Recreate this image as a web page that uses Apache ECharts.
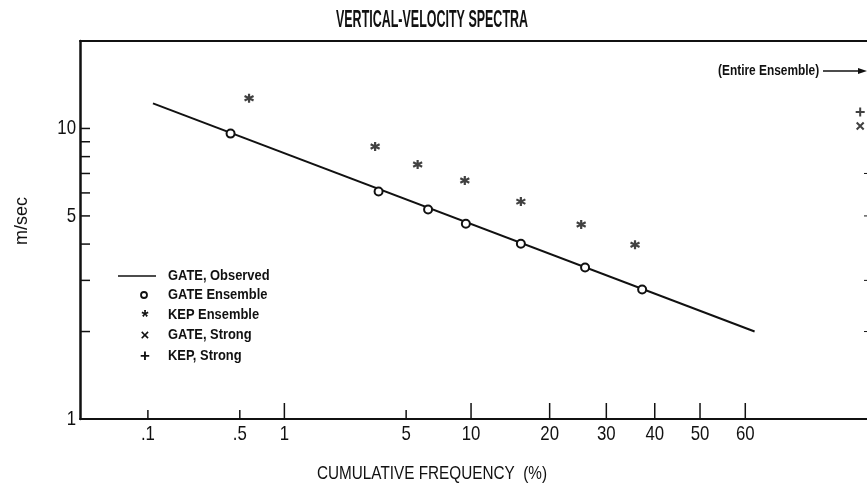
<!DOCTYPE html>
<html><head><meta charset="utf-8">
<script src="https://cdn.jsdelivr.net/npm/echarts@6/dist/echarts.min.js"></script>
<style>html,body{margin:0;padding:0;background:#fff}#c{width:867px;height:493px}</style>
</head><body><div id="c"></div>
<script>
// ---- data ----
const xTickValues = [0.1, 0.5, 1, 5, 10, 20, 30, 40, 50, 60];
const xTickLabels = ['.1', '.5', '1', '5', '10', '20', '30', '40', '50', '60'];
const xShortTicks = [0.1, 0.5, 5];
const yTickValues = [2, 3, 4, 5, 6, 7, 8, 9, 10];
const yLabelValues = [1, 5, 10];
const yLabelTexts = ['1', '5', '10'];
const yRightTicks = [2, 3, 5, 7];
const xRangePct = [0.026, 82.5];
const yRange = [1, 20];

const gateObservedFreq = [0.11, 62];
const gateObservedVel = [12.2, 2.0];
const gateEnsembleFreq = [0.43, 3.6, 6.4, 9.5, 15.8, 26, 37.3];
const gateEnsembleVel = [9.6, 6.07, 5.26, 4.7, 4.01, 3.32, 2.79];
const kepEnsembleFreq = [0.58, 3.45, 5.7, 9.4, 15.8, 25.3, 35.8];
const kepEnsembleVel = [12.7, 8.67, 7.51, 6.62, 5.6, 4.67, 3.98];
const gateStrongFreq = [81.5];
const gateStrongVel = [10.2];
const kepStrongFreq = [81.5];
const kepStrongVel = [11.4];

// inverse normal CDF (Acklam) -> probability-paper scale
function probit(pct) {
  const p = pct / 100;
  const a = [-3.969683028665376e+01, 2.209460984245205e+02, -2.759285104469687e+02, 1.383577518672690e+02, -3.066479806614716e+01, 2.506628277459239e+00];
  const b = [-5.447609879822406e+01, 1.615858368580409e+02, -1.556989798598866e+02, 6.680131188771972e+01, -1.328068155288572e+01];
  const c = [-7.784894002430293e-03, -3.223964580411365e-01, -2.400758277161838e+00, -2.549732539343734e+00, 4.374664141464968e+00, 2.938163982698783e+00];
  const d = [7.784695709041462e-03, 3.224671290700398e-01, 2.445134137142996e+00, 3.754408661907416e+00];
  const pl = 0.02425, ph = 1 - pl;
  let q, r;
  if (p < pl) {
    q = Math.sqrt(-2 * Math.log(p));
    return (((((c[0]*q+c[1])*q+c[2])*q+c[3])*q+c[4])*q+c[5]) / ((((d[0]*q+d[1])*q+d[2])*q+d[3])*q+1);
  } else if (p <= ph) {
    q = p - 0.5; r = q * q;
    return (((((a[0]*r+a[1])*r+a[2])*r+a[3])*r+a[4])*r+a[5])*q / (((((b[0]*r+b[1])*r+b[2])*r+b[3])*r+b[4])*r+1);
  } else {
    q = Math.sqrt(-2 * Math.log(1 - p));
    return -(((((c[0]*q+c[1])*q+c[2])*q+c[3])*q+c[4])*q+c[5]) / ((((d[0]*q+d[1])*q+d[2])*q+d[3])*q+1);
  }
}
const pairs = (fs, vs) => fs.map((f, i) => [probit(f), vs[i]]);

const FONT = "'Liberation Sans',Arial,sans-serif";
const BLACK = '#111';
const ASTER = 'path://M5,0L5,10M0.67,2.5L9.33,7.5M0.67,7.5L9.33,2.5';
const CROSS = 'path://M0,0L10,10M0,10L10,0';
const PLUS = 'path://M5,0L5,10M0,5L10,5';
const xMin = probit(xRangePct[0]), xMax = probit(xRangePct[1]);

function txt(x, y, text, font, sx, align, extra) {
  return Object.assign({ type: 'text', x: x, y: y, scaleX: sx,
    style: { text: text, font: font, fill: BLACK, textAlign: align || 'left', textVerticalAlign: 'middle' } }, extra || {});
}

const chart = echarts.init(document.getElementById('c'));
chart.setOption({
  animation: false,
  backgroundColor: '#fff',
  grid: { left: 80, right: 0, top: 41, bottom: 74 },
  xAxis: [{
    type: 'value', min: xMin, max: xMax, position: 'bottom',
    axisLine: { onZero: false, lineStyle: { color: BLACK, width: 2 } },
    axisTick: { show: false }, axisLabel: { show: false }, splitLine: { show: false }
  }, {
    type: 'value', min: xMin, max: xMax, position: 'top',
    axisLine: { onZero: false, lineStyle: { color: BLACK, width: 2 } },
    axisTick: { show: false }, axisLabel: { show: false }, splitLine: { show: false }
  }],
  yAxis: {
    type: 'log', logBase: 10, min: yRange[0], max: yRange[1],
    axisLine: { onZero: false, lineStyle: { color: BLACK, width: 2.5 } },
    axisTick: { show: false }, axisLabel: { show: false }, splitLine: { show: false }
  },
  graphic: [
    // title and axis names
    txt(432, 20, 'VERTICAL-VELOCITY SPECTRA', 'bold 24px ' + FONT, 0.52, 'center'),
    txt(432, 474, 'CUMULATIVE FREQUENCY  (%)', '18px ' + FONT, 0.85, 'center'),
    txt(22, 221, 'm/sec', '18px ' + FONT, 1, 'center', { rotation: Math.PI / 2 }),
    // legend
    { type: 'line', shape: { x1: 118, y1: 276, x2: 156, y2: 276 }, style: { stroke: BLACK, lineWidth: 1.5 } },
    { type: 'circle', shape: { cx: 144, cy: 295, r: 3 }, style: { fill: '#fff', stroke: BLACK, lineWidth: 1.8 } },
    txt(145, 318, '*', 'bold 18px ' + FONT, 1, 'center'),
    txt(145, 336, '×', 'bold 15px ' + FONT, 1, 'center'),
    txt(145, 356, '+', 'bold 17px ' + FONT, 1, 'center'),
    txt(168, 276, 'GATE, Observed', 'bold 15px ' + FONT, 0.86),
    txt(168, 295, 'GATE Ensemble', 'bold 15px ' + FONT, 0.86),
    txt(168, 315, 'KEP Ensemble', 'bold 15px ' + FONT, 0.86),
    txt(168, 335, 'GATE, Strong', 'bold 15px ' + FONT, 0.86),
    txt(168, 356, 'KEP, Strong', 'bold 15px ' + FONT, 0.86),
    // annotation
    txt(718, 71, '(Entire Ensemble)', 'bold 14px ' + FONT, 0.85),
    { type: 'line', shape: { x1: 823, y1: 71, x2: 862, y2: 71 }, style: { stroke: BLACK, lineWidth: 1.5 } },
    { type: 'polygon', shape: { points: [[867, 71], [858, 68], [858, 74]] }, style: { fill: BLACK } }
  ],
  series: [
    {
      name: 'GATE, Observed', type: 'line', data: pairs(gateObservedFreq, gateObservedVel),
      showSymbol: false, symbol: 'none', lineStyle: { color: BLACK, width: 2 }, z: 2
    },
    {
      name: 'GATE Ensemble', type: 'scatter', data: pairs(gateEnsembleFreq, gateEnsembleVel),
      symbol: 'circle', symbolSize: 8,
      itemStyle: { color: '#fff', borderColor: BLACK, borderWidth: 2, opacity: 1 }, z: 3
    },
    {
      name: 'KEP Ensemble', type: 'scatter', data: pairs(kepEnsembleFreq, kepEnsembleVel),
      symbol: ASTER, symbolSize: 9,
      itemStyle: { color: 'none', borderColor: BLACK, borderWidth: 2.2 }, z: 3
    },
    {
      name: 'GATE, Strong', type: 'scatter', data: pairs(gateStrongFreq, gateStrongVel),
      symbol: CROSS, symbolSize: 7,
      itemStyle: { color: 'none', borderColor: BLACK, borderWidth: 2 }, z: 3
    },
    {
      name: 'KEP, Strong', type: 'scatter', data: pairs(kepStrongFreq, kepStrongVel),
      symbol: PLUS, symbolSize: 9,
      itemStyle: { color: 'none', borderColor: BLACK, borderWidth: 2 }, z: 3
    },
    {
      name: 'xTicks', type: 'custom', silent: true, clip: false, z: 4,
      data: xTickValues.map((v, i) => [probit(v), yRange[0], i]),
      renderItem: (params, api) => {
        const i = api.value(2);
        const p = api.coord([api.value(0), api.value(1)]);
        const len = xShortTicks.includes(xTickValues[i]) ? 9 : 16;
        return { type: 'group', children: [
          { type: 'line', shape: { x1: p[0], y1: p[1], x2: p[0], y2: p[1] - len }, style: { stroke: BLACK, lineWidth: 1.5 } },
          { type: 'text', x: p[0], y: p[1] + 15, scaleX: 0.8, style: { text: xTickLabels[i], font: '21px ' + FONT, fill: BLACK, textAlign: 'center', textVerticalAlign: 'middle' } }
        ] };
      }
    },
    {
      name: 'yTicks', type: 'custom', silent: true, clip: false, z: 4,
      data: yTickValues.map(v => [xMin, v]),
      renderItem: (params, api) => {
        const p = api.coord([api.value(0), api.value(1)]);
        return { type: 'line', shape: { x1: p[0], y1: p[1], x2: p[0] + 10, y2: p[1] }, style: { stroke: BLACK, lineWidth: 1.5 } };
      }
    },
    {
      name: 'yRightTicks', type: 'custom', silent: true, clip: false, z: 4,
      data: yRightTicks.map(v => [xMax, v]),
      renderItem: (params, api) => {
        const p = api.coord([api.value(0), api.value(1)]);
        return { type: 'line', shape: { x1: p[0] - 3, y1: p[1], x2: p[0], y2: p[1] }, style: { stroke: BLACK, lineWidth: 1 } };
      }
    },
    {
      name: 'yLabels', type: 'custom', silent: true, clip: false, z: 4,
      data: yLabelValues.map((v, i) => [xMin, v, i]),
      renderItem: (params, api) => {
        const i = api.value(2);
        const p = api.coord([api.value(0), api.value(1)]);
        return { type: 'text', x: p[0] - 4, y: p[1], scaleX: 0.8, style: { text: yLabelTexts[i], font: '21px ' + FONT, fill: BLACK, textAlign: 'right', textVerticalAlign: 'middle' } };
      }
    }
  ]
});
</script></body></html>
